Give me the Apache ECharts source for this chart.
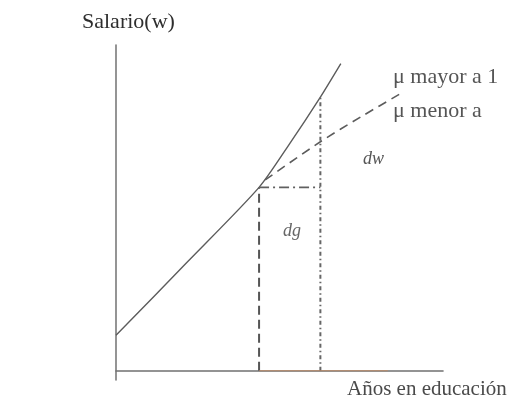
<!DOCTYPE html>
<html>
<head>
<meta charset="utf-8">
<script src="https://cdn.jsdelivr.net/npm/echarts@6/dist/echarts.min.js"></script>
<style>
  html, body { margin: 0; padding: 0; background: #fff; }
  #chart { width: 514px; height: 405px; }
</style>
</head>
<body>
<div id="chart"></div>
<script>
// Years of education (x) and wage (w) in arbitrary units
const wageCurveX = [0, 3.5, 7, 8.5, 10, 11];
const wageCurveW = [3.8, 11.7, 19.7, 24.4, 29.4, 33];
const flatterX = [7.3, 10, 12, 14.1];
const flatterW = [20.5, 24.6, 27.3, 30];
const baseX = 7;      // starting years of education
const nextX = 10;     // years after the additional schooling (dg)
const baseW = 19.7;   // wage at baseX
const nextW = 29.4;   // wage at nextX on the steeper curve
const axisLabels = { y: 'Salario(w)', x: 'Años en educación' };
const curveLabels = ['μ mayor a 1', 'μ menor a'];
const diffLabels = { dw: 'dw', dg: 'dg' };

const zip = (xs, ys) => xs.map((x, i) => [x, ys[i]]);
const serif = '"Liberation Serif", "DejaVu Serif", serif';
const ink = '#5c5c5c';

const chart = echarts.init(document.getElementById('chart'), null, { renderer: 'canvas' });

chart.setOption({
  animation: false,
  backgroundColor: '#ffffff',
  grid: { left: 116, right: 71, top: 45, bottom: 25 },
  xAxis: {
    type: 'value', min: 0, max: 16,
    axisLine: { onZero: true, lineStyle: { color: '#707070', width: 1.6 } },
    axisTick: { show: false }, axisLabel: { show: false }, splitLine: { show: false }
  },
  yAxis: {
    type: 'value', min: -1, max: 35,
    axisLine: { onZero: true, lineStyle: { color: '#7a7a7a', width: 1.6 } },
    axisTick: { show: false }, axisLabel: { show: false }, splitLine: { show: false }
  },
  series: [
    {
      name: 'salario', type: 'line', data: zip(wageCurveX, wageCurveW),
      smooth: 0.25, symbol: 'none',
      lineStyle: { color: ink, width: 1.4 }
    },
    {
      name: 'menor', type: 'line', data: zip(flatterX, flatterW),
      smooth: 0.3, symbol: 'none',
      lineStyle: { color: ink, width: 1.6, type: [9, 6] }
    },
    {
      name: 'dg-inicio', type: 'line', data: [[baseX, 0], [baseX, baseW]],
      symbol: 'none',
      lineStyle: { color: '#555', width: 2, type: [9, 5] }
    },
    {
      name: 'dg-fin', type: 'line', data: [[nextX, 0], [nextX, nextW]],
      symbol: 'none',
      lineStyle: { color: '#666', width: 2, type: [4, 3, 1.5, 3] }
    },
    {
      name: 'dg', type: 'line', data: [[baseX, baseW], [nextX, baseW]],
      symbol: 'none',
      lineStyle: { color: '#606060', width: 1.6, type: [10, 4, 2, 4] }
    },
    {
      name: 'tinte', type: 'line', data: [[baseX, 0], [13.3, 0]],
      symbol: 'none', z: 3,
      lineStyle: { color: '#c98a5c', width: 1, opacity: 0.7 }
    }
  ],
  graphic: [
    { type: 'text', left: 82, top: 11, style: { text: axisLabels.y, font: '22px ' + serif, fill: '#2e2e2e' } },
    { type: 'text', left: 347, top: 379, style: { text: axisLabels.x, font: '21px ' + serif, fill: '#4a4a4a' } },
    { type: 'text', left: 393, top: 66, style: { text: curveLabels[0], font: '22px ' + serif, fill: '#555' } },
    { type: 'text', left: 393, top: 100, style: { text: curveLabels[1], font: '22px ' + serif, fill: '#555' } },
    { type: 'text', left: 363, top: 150, style: { text: diffLabels.dw, font: 'italic 18px ' + serif, fill: '#555' } },
    { type: 'text', left: 283, top: 222, style: { text: diffLabels.dg, font: 'italic 18px ' + serif, fill: '#666' } }
  ]
});
</script>
</body>
</html>
